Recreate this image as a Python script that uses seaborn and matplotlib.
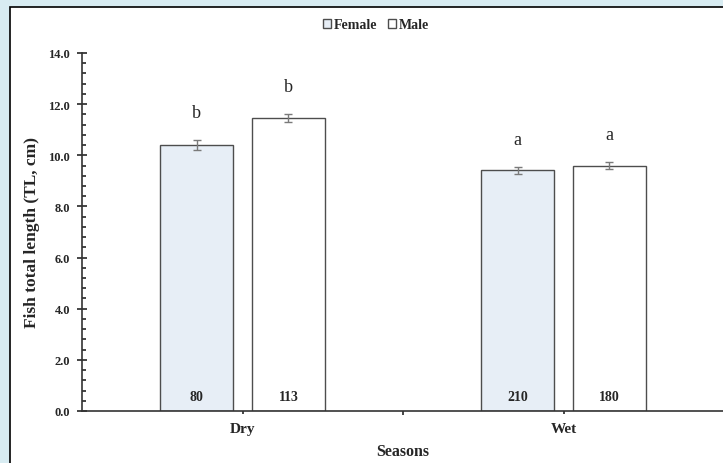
import pandas as pd
import numpy as np
import matplotlib
matplotlib.use("Agg")
import matplotlib.pyplot as plt
from matplotlib.patches import Rectangle
from matplotlib.ticker import MultipleLocator, FormatStrFormatter
import seaborn as sns

# data
seasons = ["Dry", "Wet"]
sexes = ["Female", "Male"]
female_mean = [10.4, 9.42]
male_mean = [11.45, 9.6]
female_se = [0.2, 0.14]
male_se = [0.15, 0.12]
female_n = [80, 210]
male_n = [113, 180]
female_letters = ["b", "a"]
male_letters = ["b", "a"]

df = pd.DataFrame({
    "Season": seasons * 2,
    "Sex": ["Female"] * 2 + ["Male"] * 2,
    "TL": female_mean + male_mean,
    "SE": female_se + male_se,
    "N": female_n + male_n,
    "Letter": female_letters + male_letters,
})

sns.set_style("white")
plt.rcParams["font.family"] = ["Liberation Serif", "DejaVu Serif"]

fig = plt.figure(figsize=(7.23, 4.64), dpi=100)
fig.patch.set_facecolor("#d8ecf2")

# white panel with black frame behind the chart
bg = fig.add_axes([0, 0, 1, 1], zorder=-5)
bg.axis("off")
bg.add_patch(Rectangle((10 / 723, -0.1), 1.1, (456 / 464) + 0.1,
                       transform=bg.transAxes, facecolor="white",
                       edgecolor="black", linewidth=1.2, clip_on=False))

ax = fig.add_axes([82 / 723, 52 / 464, 642 / 723, 358 / 464], zorder=1)
ax.set_facecolor("none")

sns.barplot(data=df, x="Season", y="TL", hue="Sex", order=seasons,
            hue_order=sexes, palette=["#e4eef9", "white"], width=0.572,
            gap=0.21, errorbar=None, edgecolor="#4d4d4d", linewidth=1.0,
            legend=False, ax=ax)

for cont, sex in zip(ax.containers, sexes):
    sub = df[df["Sex"] == sex].set_index("Season").loc[seasons]
    for bar, (_, row) in zip(cont, sub.iterrows()):
        cx = bar.get_x() + bar.get_width() / 2
        ax.errorbar(cx, row["TL"], yerr=row["SE"], color="#7a7a7a",
                    capsize=3, elinewidth=1, capthick=1, zorder=5)
        ax.text(cx, row["TL"] + row["SE"] + 0.9, row["Letter"],
                ha="center", va="baseline", fontsize=13)
        ax.text(cx, 0.3, str(row["N"]), ha="center", va="bottom",
                fontsize=10, fontweight="bold")

ax.set_ylim(0, 14)
ax.set_xlim(-0.5, 1.5)
ax.yaxis.set_major_locator(MultipleLocator(2))
ax.yaxis.set_minor_locator(MultipleLocator(0.4))
ax.yaxis.set_major_formatter(FormatStrFormatter("%.1f"))
ax.tick_params(axis="y", which="major", direction="inout", length=7,
               width=1.2, left=True, labelsize=9, pad=5)
ax.tick_params(axis="y", which="minor", direction="in", length=3,
               width=1.2, left=True)
ax.set_xticks([0.5], minor=True)
ax.tick_params(axis="x", which="major", direction="out", length=2,
               width=1.2, bottom=True, labelsize=11, pad=6)
ax.tick_params(axis="x", which="minor", direction="out", length=3,
               width=1.2, bottom=True)
for lab in ax.get_xticklabels() + ax.get_yticklabels():
    lab.set_fontweight("bold")

for side in ["top", "right"]:
    ax.spines[side].set_visible(False)
for side in ["left", "bottom"]:
    ax.spines[side].set_color("#333333")
    ax.spines[side].set_linewidth(1.2)

ax.set_ylabel("Fish total length (TL, cm)", fontsize=12.5, fontweight="bold",
              labelpad=6)
ax.set_xlabel("Seasons", fontsize=11.5, fontweight="bold", labelpad=6)

handles = [ax.containers[0][0], ax.containers[1][0]]
fig.legend(handles, sexes, loc="center", bbox_to_anchor=(0.52, 0.944),
           ncol=2, frameon=False, handlelength=0.6, handleheight=0.6,
           handletextpad=0.15, columnspacing=0.8,
           prop={"weight": "bold", "size": 10})

fig.savefig("out.png", dpi=100, facecolor=fig.get_facecolor())
